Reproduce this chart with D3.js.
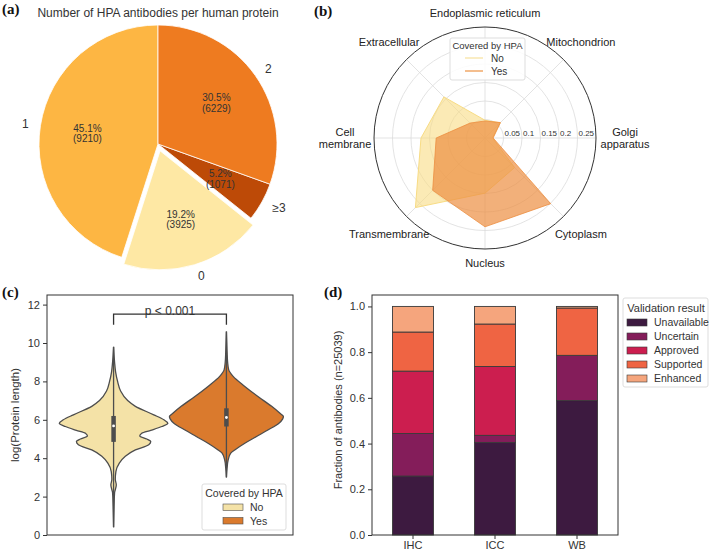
<!DOCTYPE html>
<html>
<head>
<meta charset="utf-8">
<script src="https://cdn.jsdelivr.net/npm/d3@7"></script>
<style>
  body { margin: 0; background: #fff; }
  svg { font-family: "Liberation Sans", Arial, sans-serif; }
</style>
</head>
<body>
<svg id="fig" width="709" height="551"></svg>
<script>
// ---- (a) antibodies per protein
const pieLabels = ["1", "0", "≥3", "2"]
const pieCounts = [9210, 3925, 1071, 6229]
const pieColors = ["#fdb643", "#fee8a4", "#bd4a07", "#ee7b20"]
const pieExplode = [0, 0.06, 0, 0]

// ---- (b) compartments radar
const compartments = ["Endoplasmic reticulum", "Mitochondrion", "Golgi\napparatus", "Cytoplasm",
    "Nucleus", "Transmembrane", "Cell\nmembrane", "Extracellular"]
const radarNo = [0.048, 0.058, 0.02, 0.113, 0.149, 0.266, 0.173, 0.157]
const radarYes = [0.046, 0.059, 0.022, 0.251, 0.24, 0.2, 0.132, 0.057]
const radarTicks = [0.05, 0.1, 0.15, 0.2, 0.25]

// ---- (c) protein length violins  [value, density]
const hueGroups = ["No", "Yes"]
const violinNo = [[0.4, 0], [1.5, 0.5], [2.2, 1], [2.6, 2.7], [2.9, 1.7], [3.3, 2.3], [3.74, 5.7],
    [4.1, 11.7], [4.43, 21.7], [4.7, 35], [4.87, 37], [5.0, 33], [5.15, 26], [5.3, 28], [5.45, 37],
    [5.65, 48], [5.82, 54], [6.0, 50], [6.26, 40], [6.7, 21.7], [7.0, 14], [7.5, 7], [8.0, 4],
    [8.5, 2], [9.0, 1], [9.8, 0]]
const violinYes = [[3.0, 0], [3.5, 0.7], [3.9, 1.7], [4.26, 4.3], [4.43, 8.3], [4.78, 18.3],
    [5.13, 30], [5.48, 41.7], [5.8, 51.7], [6.05, 56], [6.17, 56.7], [6.35, 53], [6.7, 45],
    [7.2, 31.7], [7.74, 18.3], [8.26, 6.7], [8.6, 2.3], [9.0, 1.2], [9.5, 0.7], [10.0, 0.4], [10.6, 0]]
const violinQuartiles = [[4.85, 6.2], [5.65, 6.6]]
const violinMedians = [5.68, 6.12]
const violinRange = [[0.4, 9.8], [3.0, 10.6]]
const hueColors = ["#f4e2a7", "#da7a2d"]

// ---- (d) validation results
const methods = ["IHC", "ICC", "WB"]
const validation = ["Unavailable", "Uncertain", "Approved", "Supported", "Enhanced"]
const unavailable = [0.258, 0.405, 0.588]
const uncertain = [0.186, 0.031, 0.198]
const approved = [0.273, 0.301, 0.0]
const supported = [0.171, 0.186, 0.207]
const enhanced = [0.112, 0.077, 0.007]
const validationColors = ["#3d1a40", "#841d5a", "#cc1e4f", "#ef6443", "#f5a57d"]

const svg = d3.select("#fig")
svg.append("rect").attr("width", 709).attr("height", 551).attr("fill", "#fff")

const ink = "#333"

// panel letters
const letters = [["(a)", 2, 14], ["(b)", 314, 16], ["(c)", 2, 297], ["(d)", 324, 297]]
letters.forEach(([t, x, y]) => {
    svg.append("text").attr("x", x).attr("y", y).text(t)
        .attr("font-family", "'Liberation Serif', 'Times New Roman', serif")
        .attr("font-weight", "bold").attr("font-size", 15).attr("fill", "#111")
})

// ================= (a) pie
{
    const cx = 158, cy = 144, R = 119
    const total = d3.sum(pieCounts)
    const arcs = d3.pie().sort(null).startAngle(0).endAngle(-2 * Math.PI)(pieCounts)
    const arc = d3.arc().innerRadius(0).outerRadius(R)
    const g = svg.append("g").attr("transform", `translate(${cx},${cy})`)

    svg.append("text").attr("x", cx).attr("y", 17).attr("text-anchor", "middle")
        .attr("font-size", 12).attr("fill", ink)
        .text("Number of HPA antibodies per human protein")

    arcs.forEach((d, i) => {
        const mid = (d.startAngle + d.endAngle) / 2
        const off = pieExplode[i] * R
        const sg = g.append("g")
            .attr("transform", `translate(${Math.sin(mid) * off},${-Math.cos(mid) * off})`)
        sg.append("path").attr("d", arc(d)).attr("fill", pieColors[i])
            .attr("stroke", "#fff").attr("stroke-width", 0.8)

        const px = Math.sin(mid) * R * 0.6, py = -Math.cos(mid) * R * 0.6
        const t = sg.append("text").attr("text-anchor", "middle").attr("font-size", 10).attr("fill", ink)
        t.append("tspan").attr("x", px).attr("y", py - 1.5).text((100 * pieCounts[i] / total).toFixed(1) + "%")
        t.append("tspan").attr("x", px).attr("y", py + 9).text(`(${pieCounts[i]})`)

        const lx = Math.sin(mid) * R * 1.1, ly = -Math.cos(mid) * R * 1.1
        sg.append("text").attr("x", lx).attr("y", ly).attr("dy", "0.35em")
            .attr("text-anchor", lx < 0 ? "end" : "start")
            .attr("font-size", 12).attr("fill", ink).text(pieLabels[i])
    })
}

// ================= (b) radar
{
    const cx = 485, cy = 138, R = 111
    const r = d3.scaleLinear().domain([0, 0.3]).range([0, R])
    const step = 2 * Math.PI / compartments.length
    const g = svg.append("g").attr("transform", `translate(${cx},${cy})`)

    g.selectAll(".grid").data(radarTicks).join("circle")
        .attr("r", d => r(d)).attr("fill", "none").attr("stroke", "#dcdcdc").attr("stroke-width", 0.8)
    g.selectAll(".spoke").data(compartments).join("line")
        .attr("x2", (d, i) => Math.sin(i * step) * R).attr("y2", (d, i) => -Math.cos(i * step) * R)
        .attr("stroke", "#dcdcdc").attr("stroke-width", 0.8)

    const line = d3.lineRadial().angle((d, i) => i * step).radius(d => r(d)).curve(d3.curveLinearClosed)
    g.append("path").attr("d", line(radarNo)).attr("fill", "#f8dc84").attr("fill-opacity", 0.6)
        .attr("stroke", "#f8dc84").attr("stroke-width", 1)
    g.append("path").attr("d", line(radarYes)).attr("fill", "#ec8e41").attr("fill-opacity", 0.7)
        .attr("stroke", "#ec8e41").attr("stroke-opacity", 0.8).attr("stroke-width", 1)

    g.append("circle").attr("r", R).attr("fill", "none").attr("stroke", ink).attr("stroke-width", 1)

    g.selectAll(".rt").data(radarTicks).join("text")
        .attr("x", d => r(d) + 1).attr("y", -2)
        .attr("font-size", 8).attr("fill", ink).text(d => d3.format("~g")(d))

    compartments.forEach((c, i) => {
        const a = i * step
        const dist = 125 + 15 * Math.abs(Math.sin(a))
        const x = Math.sin(a) * dist, y = -Math.cos(a) * dist
        const lines = c.split("\n")
        const t = g.append("text").attr("text-anchor", "middle").attr("font-size", 11).attr("fill", "#222")
        lines.forEach((l, k) => {
            t.append("tspan").attr("x", x)
                .attr("y", y + (k - (lines.length - 1) / 2) * 12.5).attr("dy", "0.35em").text(l)
        })
    })

    // legend
    const lg = svg.append("g").attr("transform", "translate(450,38)")
    lg.append("rect").attr("width", 75).attr("height", 42).attr("rx", 2)
        .attr("fill", "#fff").attr("fill-opacity", 0.85).attr("stroke", "#ddd")
    lg.append("text").attr("x", 37.5).attr("y", 11).attr("text-anchor", "middle")
        .attr("font-size", 9.5).attr("fill", ink).text("Covered by HPA")
    hueGroups.forEach((h, i) => {
        lg.append("line").attr("x1", 15).attr("x2", 33).attr("y1", 20 + i * 13).attr("y2", 20 + i * 13)
            .attr("stroke", i ? "#f0a868" : "#f8e7b0").attr("stroke-width", 1.5)
        lg.append("text").attr("x", 41).attr("y", 20 + i * 13).attr("dy", "0.35em")
            .attr("font-size", 10).attr("fill", ink).text(h)
    })
}

// ================= (c) violins
{
    const left = 47, right = 293, top = 295, bottom = 535
    const y = d3.scaleLinear().domain([0, 12.5]).range([bottom, top])
    const x = d3.scalePoint().domain(hueGroups).range([left, right]).padding(0.59)
    const profiles = [violinNo, violinYes]
    const wmax = d3.max(profiles.flat(), d => d[1])
    const w = d3.scaleLinear().domain([0, wmax]).range([0, 57])
    const g = svg.append("g")

    profiles.forEach((p, i) => {
        const cx = x(hueGroups[i])
        const area = d3.area().curve(d3.curveMonotoneY)
            .y(d => y(d[0])).x0(d => cx - w(d[1])).x1(d => cx + w(d[1]))
        g.append("path").attr("d", area(p)).attr("fill", hueColors[i])
            .attr("stroke", "#4d4d4d").attr("stroke-width", 1.3)
        g.append("line").attr("x1", cx).attr("x2", cx)
            .attr("y1", y(violinRange[i][0])).attr("y2", y(violinRange[i][1]))
            .attr("stroke", "#4d4d4d").attr("stroke-width", 1.3)
        g.append("line").attr("x1", cx).attr("x2", cx)
            .attr("y1", y(violinQuartiles[i][0])).attr("y2", y(violinQuartiles[i][1]))
            .attr("stroke", "#4d4d4d").attr("stroke-width", 4.5)
        g.append("circle").attr("cx", cx).attr("cy", y(violinMedians[i])).attr("r", 1.4).attr("fill", "#fff")
    })

    // significance bracket
    const by = y(11.5), bt = y(10.95)
    g.append("path").attr("d", `M${x("No")},${bt}V${by}H${x("Yes")}V${bt}`)
        .attr("fill", "none").attr("stroke", ink).attr("stroke-width", 1.3)
    g.append("text").attr("x", (x("No") + x("Yes")) / 2).attr("y", by + 1)
        .attr("text-anchor", "middle").attr("font-size", 12).attr("fill", ink).text("p < 0.001")

    g.append("rect").attr("x", left).attr("y", top).attr("width", right - left).attr("height", bottom - top)
        .attr("fill", "none").attr("stroke", ink).attr("stroke-width", 1)

    const ax = g.append("g").attr("transform", `translate(${left},0)`)
        .call(d3.axisLeft(y).tickValues(d3.range(0, 13, 2)).tickSize(4).tickPadding(3))
    ax.select(".domain").remove()
    ax.selectAll("line").attr("stroke", ink)
    ax.selectAll("text").attr("font-size", 11).attr("fill", ink).attr("font-family", null)

    svg.append("text").attr("transform", `translate(19,${(top + bottom) / 2}) rotate(-90)`)
        .attr("text-anchor", "middle").attr("font-size", 11.5).attr("fill", ink).text("log(Protein length)")

    // legend
    const lg = svg.append("g").attr("transform", "translate(202,484)")
    lg.append("rect").attr("width", 84).attr("height", 46).attr("rx", 2)
        .attr("fill", "#fff").attr("fill-opacity", 0.85).attr("stroke", "#ddd")
    lg.append("text").attr("x", 42).attr("y", 13).attr("text-anchor", "middle")
        .attr("font-size", 10.5).attr("fill", ink).text("Covered by HPA")
    hueGroups.forEach((h, i) => {
        lg.append("rect").attr("x", 21).attr("y", 20 + i * 13.5).attr("width", 20).attr("height", 6.5)
            .attr("fill", hueColors[i]).attr("stroke", "#4d4d4d").attr("stroke-width", 0.6)
        lg.append("text").attr("x", 48).attr("y", 23.5 + i * 13.5).attr("dy", "0.35em")
            .attr("font-size", 10.5).attr("fill", ink).text(h)
    })
}

// ================= (d) stacked bars
{
    const left = 372, right = 618, top = 295, bottom = 535
    const y = d3.scaleLinear().domain([0, 1.05]).range([bottom, top])
    const x = d3.scaleBand().domain(methods).range([left, right]).paddingInner(0.5).paddingOuter(0.25)
    const series = [unavailable, uncertain, approved, supported, enhanced]
    const rows = methods.map((m, j) => {
        const o = { method: m }
        validation.forEach((v, k) => o[v] = series[k][j])
        return o
    })
    const stacked = d3.stack().keys(validation)(rows)
    const g = svg.append("g")

    stacked.forEach((s, k) => {
        g.selectAll(null).data(s).join("rect")
            .attr("x", d => x(d.data.method)).attr("width", x.bandwidth())
            .attr("y", d => y(d[1])).attr("height", d => y(d[0]) - y(d[1]))
            .attr("fill", validationColors[k]).attr("stroke", "#3a3a3a").attr("stroke-width", 0.9)
    })

    g.append("rect").attr("x", left).attr("y", top).attr("width", right - left).attr("height", bottom - top)
        .attr("fill", "none").attr("stroke", ink).attr("stroke-width", 1)

    const ay = g.append("g").attr("transform", `translate(${left},0)`)
        .call(d3.axisLeft(y).tickValues(d3.range(0, 1.01, 0.2)).tickFormat(d3.format(".1f")).tickSize(4).tickPadding(3))
    ay.select(".domain").remove()
    ay.selectAll("line").attr("stroke", ink)
    ay.selectAll("text").attr("font-size", 11).attr("fill", ink).attr("font-family", null)

    const axx = g.append("g").attr("transform", `translate(0,${bottom})`)
        .call(d3.axisBottom(x).tickSize(4).tickPadding(2))
    axx.select(".domain").remove()
    axx.selectAll("line").attr("stroke", ink)
    axx.selectAll("text").attr("font-size", 11).attr("fill", ink).attr("font-family", null)

    svg.append("text").attr("transform", `translate(342,${(top + bottom) / 2 - 5}) rotate(-90)`)
        .attr("text-anchor", "middle").attr("font-size", 11).attr("fill", ink)
        .text("Fraction of antibodies (n=25039)")

    // legend
    const lg = svg.append("g").attr("transform", "translate(623,298)")
    lg.append("rect").attr("width", 85).attr("height", 89).attr("rx", 2)
        .attr("fill", "#fff").attr("stroke", "#ddd")
    lg.append("text").attr("x", 43).attr("y", 14).attr("text-anchor", "middle")
        .attr("font-size", 11).attr("fill", ink).text("Validation result")
    validation.forEach((v, k) => {
        lg.append("rect").attr("x", 4).attr("y", 21 + k * 14).attr("width", 20).attr("height", 7)
            .attr("fill", validationColors[k]).attr("stroke", "#3a3a3a").attr("stroke-width", 0.6)
        lg.append("text").attr("x", 31).attr("y", 24.5 + k * 14).attr("dy", "0.35em")
            .attr("font-size", 10.5).attr("fill", ink).text(v)
    })
}
</script>
</body>
</html>
